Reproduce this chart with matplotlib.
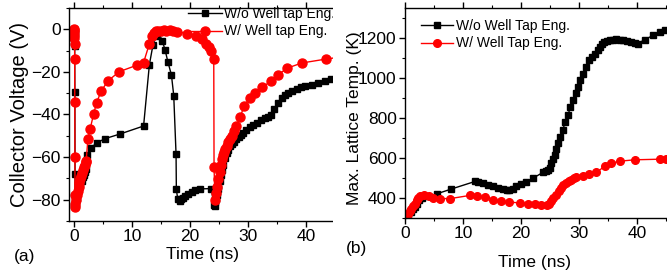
import matplotlib

matplotlib.use("Agg")
import matplotlib.pyplot as plt
from matplotlib.patches import Rectangle
from matplotlib.ticker import MultipleLocator

plt.rcParams["font.family"] = ["Liberation Sans", "DejaVu Sans"]

# ---- panel (a): collector voltage ----
t_a_wo = [0.05, 0.1, 0.12, 0.15, 0.18, 0.2, 0.25, 0.35, 0.5, 0.7, 0.9, 1.1, 1.3,
          1.5, 1.7, 1.9, 2.1, 2.3, 3.0, 3.9, 5.4, 8.0, 12.0, 13.0, 13.6, 14.1,
          14.6, 15.2, 15.7, 16.2, 16.8, 17.2, 17.6, 17.65, 17.9, 18.2, 18.5,
          18.8, 19.2, 19.7, 20.3, 20.9, 21.8, 23.7, 24.1, 24.3, 24.4, 24.5,
          24.6, 24.7, 24.8, 24.9, 25.1, 25.3, 25.5, 25.7, 26.0, 26.3, 26.6,
          26.9, 27.2, 27.6, 28.0, 28.4, 28.8, 29.2, 29.7, 30.3, 30.9, 31.5,
          32.2, 32.9, 33.4, 33.9, 34.5, 35.1, 35.8, 36.3, 36.9, 37.6, 38.4,
          39.1, 39.8, 41.0, 42.1, 43.3, 44.4]
v_a_wo = [0, -2, -8, -29.5, -68, -80, -83, -82, -79, -76, -74, -72.5, -71,
          -69.5, -68.3, -67, -65.6, -59, -55.6, -53.3, -51.3, -49.1, -45.4,
          -16.6, -7.6, -3, -1.4, -5.3, -9.6, -15.4, -21.4, -31.1, -58.7, -75.2,
          -79.9, -80.5, -79.8, -79, -78.2, -77.2, -76.3, -75.6, -74.9, -74.8,
          -82.6, -83, -81, -79.5, -78, -76.5, -75, -73.5, -71, -68.5, -66,
          -63.5, -60.5, -58, -56.5, -55, -53.8, -52.7, -51.6, -50.6, -49.6,
          -48.5, -47.3, -46.1, -45, -43.8, -42.6, -41.5, -41, -40.2, -37.6,
          -34.8, -32.4, -31, -29.8, -28.8, -28, -27.3, -26.7, -26, -25.2,
          -24.1, -23.3]

t_a_w = [0.0, 0.02, 0.04, 0.06, 0.08, 0.1, 0.12, 0.14, 0.16, 0.18, 0.2, 0.25,
         0.35, 0.5, 0.65, 0.8, 0.95, 1.1, 1.25, 1.4, 1.55, 1.7, 1.85, 2.0, 2.1,
         2.4, 2.8, 3.4, 3.9, 4.66, 5.86, 7.8, 10.9, 12.0, 13.0, 13.5, 13.8,
         14.1, 14.5, 15.0, 15.5, 15.9, 16.5, 17.1, 17.8, 19.5, 21.0, 22.0,
         22.8, 23.3, 23.7, 24.1, 24.15, 24.3, 24.5, 24.7, 24.9, 25.1, 25.3,
         25.5, 25.7, 25.9, 26.1, 26.3, 26.6, 26.9, 27.2, 27.6, 28.0, 28.7,
         29.3, 30.3, 31.2, 32.5, 33.9, 35.2, 36.8, 39.3, 43.4, 45.5]
v_a_w = [0, -0.5, -1.5, -2.5, -4, -6.8, -14, -34, -60, -78, -83.6, -82, -80,
         -78, -76, -74, -72, -70.5, -69, -67.5, -66, -64.8, -63.5, -62.5,
         -61.7, -51.7, -46.6, -39.6, -34.5, -29.1, -24.2, -19.9, -16.8, -15.6,
         -6.8, -3.1, -1.8, -1, -0.8, -0.7, -0.5, -0.6, -0.4, -0.6, -1.1, -2,
         -3, -4.5, -7, -8.5, -10, -14, -64.5, -80.3, -77, -74, -70.2, -67,
         -63.8, -60.9, -59, -57.5, -56, -54.7, -53, -51.5, -50, -47.7, -45.4,
         -41, -36.1, -32.3, -29.8, -27.2, -24.4, -21.3, -18.2, -15.8, -14,
         -13.2]

# ---- panel (b): max lattice temperature ----
t_b_wo = [0.3, 0.6, 1.0, 1.4, 1.7, 2.0, 2.4, 2.9, 3.7, 5.5, 8.0, 12.1, 12.6,
          13.4, 14.3, 15.2, 16.0, 16.9, 17.5, 18.0, 18.6, 19.2, 20.0, 20.8,
          22.1, 23.8, 24.3, 24.7, 25.0, 25.2, 25.5, 25.8, 26.1, 26.4, 26.8,
          27.2, 27.6, 28.1, 28.5, 29.0, 29.4, 29.8, 30.2, 30.7, 31.2, 31.8,
          32.2, 32.7, 33.2, 33.6, 34.0, 34.3, 34.8, 35.3, 35.8, 36.4, 37.0,
          37.6, 38.3, 39.0, 39.6, 40.2, 41.3, 42.8, 43.9, 44.9]
k_b_wo = [290, 310, 330, 345, 355, 370, 388, 400, 408, 421, 445, 483, 481,
          475, 467, 458, 451, 445, 440, 438, 446, 458, 468, 478, 500, 528, 535,
          541, 552, 574, 595, 616, 645, 674, 707, 740, 778, 815, 853, 890,
          923, 956, 989, 1022, 1056, 1089, 1105, 1122, 1140, 1155, 1170, 1180,
          1185, 1188, 1190, 1193, 1192, 1188, 1184, 1180, 1176, 1172, 1192,
          1213, 1230, 1242]

t_b_w = [0.0, 0.3, 0.6, 0.86, 1.1, 1.4, 1.7, 2.0, 2.3, 2.6, 3.2, 4.1, 4.9,
         6.0, 7.8, 11.2, 12.4, 13.8, 15.2, 16.6, 18.0, 19.8, 21.2, 22.4, 23.5,
         24.4, 24.8, 25.2, 25.6, 26.1, 26.5, 26.9, 27.3, 27.8, 28.2, 28.7,
         29.1, 29.5, 30.7, 31.8, 33.0, 34.4, 35.6, 37.0, 39.6, 43.9, 45.0]
k_b_w = [300, 306, 320, 333, 345, 358, 372, 388, 400, 408, 413, 410, 402,
         397, 397, 413, 410, 405, 392, 383, 380, 375, 372, 368, 367, 367, 372,
         383, 398, 417, 434, 450, 463, 475, 484, 491, 499, 505, 511, 521, 528,
         558, 574, 584, 591, 594, 594]

LABEL_SIZE = 12.5
TICK_SIZE = 12.5
LEGEND_SIZE = 10

fig = plt.figure(figsize=(6.67, 2.72), dpi=100)
W, H = 667, 272


def axes_px(left, right, top, bottom):
    return [left / W, 1 - bottom / H, (right - left) / W, (bottom - top) / H]


def style_axes(ax):
    ax.spines["right"].set_visible(False)
    for s in ax.spines.values():
        s.set_linewidth(1.0)
    ax.tick_params(which="major", direction="out", length=4, width=1,
                   labelsize=TICK_SIZE, top=True, labeltop=False, pad=2)
    ax.tick_params(which="minor", direction="out", length=2, width=0.8,
                   top=True)


ax1 = fig.add_axes(axes_px(69, 333, 8, 221), zorder=0)
ax1.plot(t_a_wo, v_a_wo, color="black", marker="s", ms=5, lw=1,
         label="W/o Well tap Eng.")
ax1.plot(t_a_w, v_a_w, color="red", marker="o", ms=6.5, lw=1,
         label="W/ Well tap Eng.")
ax1.set_xlim(-0.86, 44.66)
ax1.set_ylim(-90, 10)
ax1.xaxis.set_major_locator(MultipleLocator(10))
ax1.xaxis.set_minor_locator(MultipleLocator(5))
ax1.yaxis.set_major_locator(MultipleLocator(20))
ax1.yaxis.set_minor_locator(MultipleLocator(10))
style_axes(ax1)
ax1.legend(loc="upper left", bbox_to_anchor=(188 / W, 1 - 7 / H),
           bbox_transform=fig.transFigure, frameon=False,
           fontsize=LEGEND_SIZE, handlelength=2.45, handletextpad=0.15,
           borderpad=0, borderaxespad=0, labelspacing=0.25)

# mask the cropped part of panel (a)
fig.add_artist(Rectangle((333 / W, 0), 72 / W, 1, transform=fig.transFigure,
                         facecolor="white", edgecolor="none", zorder=1))

ax2 = fig.add_axes(axes_px(405, 667, 8, 218), zorder=2)
ax2.plot(t_b_wo, k_b_wo, color="black", marker="s", ms=4.5, lw=1,
         label="W/o Well Tap Eng.")
ax2.plot(t_b_w, k_b_w, color="red", marker="o", ms=5.5, lw=1,
         label="W/ Well Tap Eng.")
ax2.set_xlim(0, 45.17)
ax2.set_ylim(300, 1350)
ax2.xaxis.set_major_locator(MultipleLocator(10))
ax2.xaxis.set_minor_locator(MultipleLocator(5))
ax2.yaxis.set_major_locator(MultipleLocator(200))
ax2.yaxis.set_minor_locator(MultipleLocator(100))
style_axes(ax2)
ax2.legend(loc="upper left", bbox_to_anchor=(421 / W, 1 - 19 / H),
           bbox_transform=fig.transFigure, frameon=False,
           fontsize=LEGEND_SIZE, handlelength=2.3, handletextpad=0.2,
           borderpad=0, borderaxespad=0, labelspacing=0.25)

fig.text(20 / W, 1 - 114 / H, "Collector Voltage (V)", rotation=90,
         ha="center", va="center", fontsize=14.5)
fig.text(202 / W, 1 - 255 / H, "Time (ns)", ha="center", va="center",
         fontsize=LABEL_SIZE)
fig.text(25 / W, 1 - 256 / H, "(a)", ha="center", va="center",
         fontsize=LABEL_SIZE)

fig.text(354 / W, 1 - 118 / H, "Max. Lattice Temp. (K)", rotation=90,
         ha="center", va="center", fontsize=LABEL_SIZE)
fig.text(535 / W, 1 - 263 / H, "Time (ns)", ha="center", va="center",
         fontsize=LABEL_SIZE)
fig.text(357 / W, 1 - 248 / H, "(b)", ha="center", va="center",
         fontsize=LABEL_SIZE)

fig.savefig("out.png", dpi=100)
